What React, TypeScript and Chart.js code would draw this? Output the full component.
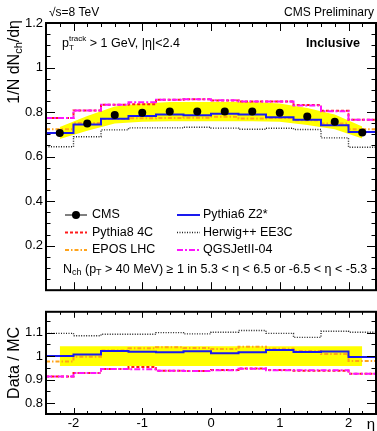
import React, { useEffect, useRef } from 'react';
import { Chart, registerables } from 'chart.js';

Chart.register(...registerables);

const FONT = "'Liberation Sans', Arial, Helvetica, sans-serif";

// ---- η binning ----
const binEdges = [-2.4, -2.0, -1.6, -1.2, -0.8, -0.4, 0, 0.4, 0.8, 1.2, 1.6, 2.0, 2.4];
const etaCenters = [-2.2, -1.8, -1.4, -1.0, -0.6, -0.2, 0.2, 0.6, 1.0, 1.4, 1.8, 2.2];

// ---- CMS data (1/N dNch/dη) ----
const cmsData = [0.706, 0.749, 0.787, 0.797, 0.802, 0.802, 0.802, 0.802, 0.797, 0.780, 0.756, 0.708];
const cmsSystTop = [0.027, 0.033, 0.038, 0.041, 0.043, 0.043, 0.043, 0.043, 0.041, 0.038, 0.033, 0.027];
const ratioBandLow = 0.958;
const ratioBandHigh = 1.042;

// ---- MC predictions ----
const pythia6Z2 = [0.706, 0.744, 0.770, 0.782, 0.789, 0.786, 0.792, 0.789, 0.777, 0.766, 0.741, 0.711];
const pythia8_4C = [0.773, 0.807, 0.833, 0.835, 0.855, 0.857, 0.852, 0.847, 0.847, 0.832, 0.806, 0.765];
const eposLHC = [0.723, 0.751, 0.769, 0.772, 0.773, 0.775, 0.779, 0.771, 0.773, 0.763, 0.749, 0.723];
const herwigEE3C = [0.644, 0.689, 0.720, 0.729, 0.729, 0.732, 0.728, 0.723, 0.727, 0.722, 0.684, 0.642];
const qgsjet04 = [0.773, 0.807, 0.833, 0.844, 0.855, 0.857, 0.853, 0.848, 0.848, 0.830, 0.804, 0.765];

// ---- Data / MC ----
const ratioPythia6 = [1.0, 1.007, 1.022, 1.019, 1.016, 1.021, 1.012, 1.016, 1.026, 1.018, 1.02, 0.996];
const ratioPythia8 = [0.913, 0.928, 0.945, 0.954, 0.938, 0.936, 0.941, 0.947, 0.941, 0.938, 0.938, 0.925];
const ratioEpos = [0.977, 0.997, 1.024, 1.033, 1.038, 1.035, 1.030, 1.040, 1.031, 1.022, 1.009, 0.979];
const ratioHerwig = [1.097, 1.087, 1.093, 1.093, 1.100, 1.095, 1.102, 1.109, 1.097, 1.080, 1.106, 1.102];
const ratioQgsjet = [0.913, 0.928, 0.945, 0.944, 0.938, 0.936, 0.940, 0.946, 0.940, 0.940, 0.940, 0.925];

// ---- Tick labels ----
const xTickValues = [-2, -1, 0, 1, 2];
const xTickLabels = ['-2', '-1', '0', '1', '2'];
const yTopTickValues = [0.2, 0.4, 0.6, 0.8, 1.0, 1.2];
const yTopTickLabels = ['0.2', '0.4', '0.6', '0.8', '1', '1.2'];
const yRatioTickValues = [0.8, 0.9, 1.0, 1.1];
const yRatioTickLabels = ['0.8', '0.9', '1', '1.1'];

type Style = { color: string; dash: number[]; width: number };
const ST: Record<string, Style> = {
  pythia6: { color: '#1a1aee', dash: [], width: 2 },
  pythia8: { color: '#ff1a1a', dash: [3, 2], width: 2 },
  epos: { color: '#ffa31a', dash: [4, 2, 1.5, 2], width: 2 },
  herwig: { color: '#222222', dash: [1, 1.5], width: 1.4 },
  qgsjet: { color: '#ff14ff', dash: [6, 2, 2, 2], width: 2 },
};

type Seg = { t: string; size?: number; dy?: number; bold?: boolean; same?: boolean };
function drawRich(
  ctx: CanvasRenderingContext2D,
  x: number,
  y: number,
  segs: Seg[],
  base: number,
  align: 'left' | 'right' | 'center' = 'left'
) {
  ctx.save();
  ctx.fillStyle = '#000';
  ctx.textBaseline = 'middle';
  ctx.textAlign = 'left';
  const fonts = segs.map((s) => `${s.bold ? 'bold ' : ''}${s.size ?? base}px ${FONT}`);
  const pos: number[] = [];
  let cx = 0, ps = 0, pw = 0;
  segs.forEach((s, i) => {
    ctx.font = fonts[i];
    const w = ctx.measureText(s.t).width;
    if (s.same) {
      pos.push(ps);
      pw = Math.max(pw, w);
      cx = ps + pw;
    } else {
      pos.push(cx);
      ps = cx;
      pw = w;
      cx += w;
    }
  });
  const total = cx;
  const x0 = align === 'left' ? x : align === 'right' ? x - total : x - total / 2;
  segs.forEach((s, i) => {
    ctx.font = fonts[i];
    ctx.fillText(s.t, x0 + pos[i], y + (s.dy ?? 0));
  });
  ctx.restore();
}

function stepPoints(vals: number[], floor: number) {
  const pts = vals.map((v, i) => ({ x: binEdges[i], y: v }));
  const last = binEdges[binEdges.length - 1];
  pts.push({ x: last, y: vals[vals.length - 1] });
  pts.push({ x: last, y: floor });
  return pts;
}

function histDs(label: string, vals: number[], st: Style, floor: number, order: number) {
  return {
    label,
    data: stepPoints(vals, floor),
    borderColor: st.color,
    borderDash: st.dash,
    borderWidth: st.width,
    pointRadius: 0,
    stepped: true,
    fill: false,
    order,
    borderCapStyle: 'butt',
  };
}

function drawFrame(
  chart: any,
  yTicks: { v: number; major: boolean }[],
  xLen: [number, number],
  yLen: [number, number]
) {
  const { ctx, chartArea: a } = chart;
  const xs = chart.scales.x;
  const ys = chart.scales.y;
  ctx.save();
  ctx.strokeStyle = '#000';
  ctx.lineWidth = 1;
  ctx.beginPath();
  for (let k = -11; k <= 11; k++) {
    const v = k * 0.2;
    const major = k % 5 === 0;
    const px = Math.round(xs.getPixelForValue(v)) + 0.5;
    const L = major ? xLen[0] : xLen[1];
    ctx.moveTo(px, a.top);
    ctx.lineTo(px, a.top + L);
    ctx.moveTo(px, a.bottom);
    ctx.lineTo(px, a.bottom - L);
  }
  for (const t of yTicks) {
    const py = Math.round(ys.getPixelForValue(t.v)) + 0.5;
    const L = t.major ? yLen[0] : yLen[1];
    ctx.moveTo(a.left, py);
    ctx.lineTo(a.left + L, py);
    ctx.moveTo(a.right, py);
    ctx.lineTo(a.right - L, py);
  }
  ctx.stroke();
  ctx.lineWidth = 2;
  ctx.strokeRect(a.left, a.top, a.right - a.left, a.bottom - a.top);
  ctx.restore();
}

function legendLine(ctx: CanvasRenderingContext2D, x1: number, x2: number, y: number, st: Style) {
  ctx.save();
  ctx.strokeStyle = st.color;
  ctx.lineWidth = st.width;
  ctx.setLineDash(st.dash);
  ctx.beginPath();
  ctx.moveTo(x1, y);
  ctx.lineTo(x2, y);
  ctx.stroke();
  ctx.restore();
}

const topPlugin = {
  id: 'topDecor',
  afterDraw(chart: any) {
    const ctx: CanvasRenderingContext2D = chart.ctx;
    const yt: { v: number; major: boolean }[] = [];
    for (let k = 1; k <= 23; k++) yt.push({ v: k * 0.05, major: k % 4 === 0 });
    drawFrame(chart, yt, [8, 4], [9, 4.5]);

    drawRich(ctx, 49, 12.5, [{ t: '\u221As=8 TeV' }], 12, 'left');
    drawRich(ctx, 374, 12.5, [{ t: 'CMS Preliminary' }], 12, 'right');

    ctx.save();
    ctx.translate(15, 20);
    ctx.rotate(-Math.PI / 2);
    drawRich(ctx, 0, 0, [{ t: '1/N dN' }, { t: 'ch', size: 11, dy: 4 }, { t: '/d\u03B7' }], 16, 'right');
    ctx.restore();

    drawRich(
      ctx,
      62,
      44,
      [{ t: 'p' }, { t: 'T', size: 8, dy: 4 }, { t: 'track', size: 8, dy: -5, same: true }, { t: ' > 1 GeV, |\u03B7|<2.4' }],
      12.5,
      'left'
    );
    drawRich(ctx, 360, 44, [{ t: 'Inclusive', bold: true }], 12.6, 'right');

    // legend
    const rows = [215, 232.5, 250];
    const c0 = [65, 87, 92];
    const c1 = [177, 200, 203];
    ctx.save();
    ctx.strokeStyle = '#000';
    ctx.lineWidth = 1;
    ctx.beginPath();
    ctx.moveTo(c0[0], rows[0]);
    ctx.lineTo(c0[1], rows[0]);
    ctx.stroke();
    ctx.fillStyle = '#000';
    ctx.beginPath();
    ctx.arc((c0[0] + c0[1]) / 2, rows[0], 4, 0, Math.PI * 2);
    ctx.fill();
    ctx.restore();
    drawRich(ctx, c0[2], rows[0], [{ t: 'CMS' }], 12.5);
    legendLine(ctx, c0[0], c0[1], rows[1], ST.pythia8);
    drawRich(ctx, c0[2], rows[1], [{ t: 'Pythia8 4C' }], 12.5);
    legendLine(ctx, c0[0], c0[1], rows[2], ST.epos);
    drawRich(ctx, c0[2], rows[2], [{ t: 'EPOS LHC' }], 12.5);
    legendLine(ctx, c1[0], c1[1], rows[0], ST.pythia6);
    drawRich(ctx, c1[2], rows[0], [{ t: 'Pythia6 Z2*' }], 12.5);
    legendLine(ctx, c1[0], c1[1], rows[1], ST.herwig);
    drawRich(ctx, c1[2], rows[1], [{ t: 'Herwig++ EE3C' }], 12.5);
    legendLine(ctx, c1[0], c1[1], rows[2], ST.qgsjet);
    drawRich(ctx, c1[2], rows[2], [{ t: 'QGSJetII-04' }], 12.5);

    drawRich(
      ctx,
      63,
      270,
      [
        { t: 'N' },
        { t: 'ch', size: 9, dy: 3 },
        { t: ' (p' },
        { t: 'T', size: 9, dy: 3 },
        { t: ' > 40 MeV) \u2265 1 in 5.3 < \u03B7 < 6.5 or -6.5 < \u03B7 < -5.3' },
      ],
      12.5
    );
  },
};

const botPlugin = {
  id: 'botDecor',
  afterDraw(chart: any) {
    const ctx: CanvasRenderingContext2D = chart.ctx;
    const yt: { v: number; major: boolean }[] = [];
    for (let k = 16; k <= 23; k++) yt.push({ v: k * 0.05, major: k % 2 === 0 });
    drawFrame(chart, yt, [6, 3], [9, 4.5]);
    const a = chart.chartArea;
    ctx.save();
    ctx.translate(15, (a.top + a.bottom) / 2);
    ctx.rotate(-Math.PI / 2);
    drawRich(ctx, 0, 0, [{ t: 'Data / MC' }], 16, 'center');
    ctx.restore();
    drawRich(ctx, 371, 124, [{ t: '\u03B7' }], 15, 'center');
  },
};

function topConfig(): any {
  return {
    type: 'line',
    data: {
      datasets: [
        {
          label: 'bandHi',
          data: etaCenters.map((x, i) => ({ x, y: cmsData[i] + cmsSystTop[i] })),
          borderWidth: 0,
          borderColor: 'rgba(0,0,0,0)',
          pointRadius: 0,
          fill: false,
          order: 10,
        },
        {
          label: 'bandLo',
          data: etaCenters.map((x, i) => ({ x, y: cmsData[i] - cmsSystTop[i] })),
          borderWidth: 0,
          borderColor: 'rgba(0,0,0,0)',
          backgroundColor: '#ffff00',
          pointRadius: 0,
          fill: '-1',
          order: 10,
        },
        histDs('Herwig++ EE3C', herwigEE3C, ST.herwig, 0, 6),
        histDs('EPOS LHC', eposLHC, ST.epos, 0, 5),
        histDs('Pythia8 4C', pythia8_4C, ST.pythia8, 0, 4),
        histDs('QGSJetII-04', qgsjet04, ST.qgsjet, 0, 3),
        histDs('Pythia6 Z2*', pythia6Z2, ST.pythia6, 0, 2),
        {
          label: 'CMS',
          data: etaCenters.map((x, i) => ({ x, y: cmsData[i] })),
          showLine: false,
          pointRadius: 4,
          pointBackgroundColor: '#000',
          pointBorderColor: '#000',
          pointBorderWidth: 0,
          order: 0,
        },
      ],
    },
    options: {
      responsive: false,
      animation: false,
      devicePixelRatio: 1,
      events: [],
      layout: { padding: { left: 0, right: 1, top: 23, bottom: 0.5 }, autoPadding: false },
      plugins: { legend: { display: false }, tooltip: { enabled: false } },
      scales: {
        x: { type: 'linear', min: -2.4, max: 2.4, display: false },
        y: {
          type: 'linear',
          min: 0,
          max: 1.2,
          grid: { display: false, drawTicks: false, tickLength: 0 },
          border: { display: false },
          afterFit: (s: any) => {
            s.width = 46;
          },
          afterBuildTicks: (s: any) => {
            s.ticks = yTopTickValues.map((v) => ({ value: v }));
          },
          ticks: {
            padding: 3,
            color: '#000',
            autoSkip: false,
            font: { family: FONT, size: 13 },
            callback: (_v: any, i: number) => yTopTickLabels[i],
          },
        },
      },
    },
    plugins: [topPlugin],
  };
}

function botConfig(): any {
  const bandX = [etaCenters[0], etaCenters[etaCenters.length - 1]];
  return {
    type: 'line',
    data: {
      datasets: [
        {
          label: 'bandHi',
          data: bandX.map((x) => ({ x, y: ratioBandHigh })),
          borderWidth: 0,
          borderColor: 'rgba(0,0,0,0)',
          pointRadius: 0,
          fill: false,
          order: 10,
        },
        {
          label: 'bandLo',
          data: bandX.map((x) => ({ x, y: ratioBandLow })),
          borderWidth: 0,
          borderColor: 'rgba(0,0,0,0)',
          backgroundColor: '#ffff00',
          pointRadius: 0,
          fill: '-1',
          order: 10,
        },
        histDs('Herwig++ EE3C', ratioHerwig, ST.herwig, 0, 6),
        histDs('EPOS LHC', ratioEpos, ST.epos, 0, 5),
        histDs('Pythia8 4C', ratioPythia8, ST.pythia8, 0, 4),
        histDs('QGSJetII-04', ratioQgsjet, ST.qgsjet, 0, 3),
        histDs('Pythia6 Z2*', ratioPythia6, ST.pythia6, 0, 2),
      ],
    },
    options: {
      responsive: false,
      animation: false,
      devicePixelRatio: 1,
      events: [],
      layout: { padding: { left: 0, right: 1, top: 1, bottom: 0 }, autoPadding: false },
      plugins: { legend: { display: false }, tooltip: { enabled: false } },
      scales: {
        x: {
          type: 'linear',
          min: -2.4,
          max: 2.4,
          position: 'bottom',
          grid: { display: false, drawTicks: false, tickLength: 0 },
          border: { display: false },
          afterFit: (s: any) => {
            s.height = 17;
          },
          afterBuildTicks: (s: any) => {
            s.ticks = xTickValues.map((v) => ({ value: v }));
          },
          ticks: {
            padding: 2,
            color: '#000',
            autoSkip: false,
            maxRotation: 0,
            font: { family: FONT, size: 13 },
            callback: (_v: any, i: number) => xTickLabels[i],
          },
        },
        y: {
          type: 'linear',
          min: 0.753,
          max: 1.189,
          grid: { display: false, drawTicks: false, tickLength: 0 },
          border: { display: false },
          afterFit: (s: any) => {
            s.width = 46;
          },
          afterBuildTicks: (s: any) => {
            s.ticks = yRatioTickValues.map((v) => ({ value: v }));
          },
          ticks: {
            padding: 3,
            color: '#000',
            autoSkip: false,
            font: { family: FONT, size: 13 },
            callback: (_v: any, i: number) => yRatioTickLabels[i],
          },
        },
      },
    },
    plugins: [botPlugin],
  };
}

export default function App() {
  const topRef = useRef<HTMLCanvasElement>(null);
  const botRef = useRef<HTMLCanvasElement>(null);
  useEffect(() => {
    const c1 = new Chart(topRef.current as HTMLCanvasElement, topConfig());
    const c2 = new Chart(botRef.current as HTMLCanvasElement, botConfig());
    return () => {
      c1.destroy();
      c2.destroy();
    };
  }, []);
  return (
    <div style={{ position: 'fixed', left: 0, top: 0, width: 377, height: 431, background: '#fff' }}>
      <canvas
        ref={topRef}
        width={377}
        height={301}
        style={{ position: 'absolute', left: 0, top: 0, width: 377, height: 301 }}
      />
      <canvas
        ref={botRef}
        width={377}
        height={130}
        style={{ position: 'absolute', left: 0, top: 301, width: 377, height: 130 }}
      />
    </div>
  );
}
